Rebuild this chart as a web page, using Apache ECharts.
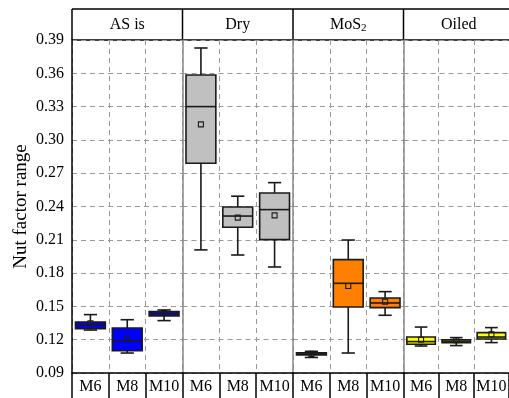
<!DOCTYPE html>
<html>
<head>
<meta charset="utf-8">
<script src="https://cdn.jsdelivr.net/npm/echarts@6/dist/echarts.min.js"></script>
<style>
html,body{margin:0;padding:0;background:#fff;}
#chart{width:509px;height:398px;}
</style>
</head>
<body>
<div id="chart"></div>
<script>
// ---- data ----
const categories = ['M6', 'M8', 'M10'];
const panels = ['AS is', 'Dry', 'MoS{sub|2}', 'Oiled'];
const yTicks = [0.09, 0.12, 0.15, 0.18, 0.21, 0.24, 0.27, 0.30, 0.33, 0.36, 0.39];
// each row: [whiskerLow, Q1, median, Q3, whiskerHigh, mean]
const asIs  = [[0.1287, 0.1300, 0.1336, 0.1360, 0.1426, 0.1348],
               [0.1080, 0.1100, 0.1188, 0.1305, 0.1380, 0.1210],
               [0.1372, 0.1414, 0.1432, 0.1453, 0.1468, 0.1440]];
const dry   = [[0.2009, 0.2790, 0.3300, 0.3585, 0.3828, 0.3140],
               [0.1963, 0.2213, 0.2314, 0.2396, 0.2493, 0.2300],
               [0.1855, 0.2102, 0.2372, 0.2522, 0.2615, 0.2320]];
const mos2  = [[0.1040, 0.1063, 0.1072, 0.1083, 0.1095, 0.1072],
               [0.1080, 0.1495, 0.1708, 0.1921, 0.2098, 0.1684],
               [0.1420, 0.1489, 0.1531, 0.1576, 0.1633, 0.1543]];
const oiled = [[0.1143, 0.1159, 0.1183, 0.1224, 0.1314, 0.1200],
               [0.1147, 0.1174, 0.1187, 0.1200, 0.1219, 0.1195],
               [0.1174, 0.1206, 0.1224, 0.1264, 0.1309, 0.1249]];
const panelData = [asIs, dry, mos2, oiled];
const panelColors = ['#0000FF', '#C0C0C0', '#FF8000', '#FFFF00'];

// ---- layout ----
const L = 72, T = 40, B = 25, PW = 110.5, HEADER = 31;
const font = "'Liberation Serif', 'Times New Roman', serif";
const edge = '#1a1a1a';

const chart = echarts.init(document.getElementById('chart'), null, {renderer: 'canvas'});

const grids = [], xAxes = [], yAxes = [], series = [];
panels.forEach((p, i) => {
  grids.push({left: L + i * PW, top: T, width: PW, bottom: B, containLabel: false});
  xAxes.push({
    type: 'category', gridIndex: i, data: categories, position: 'bottom',
    axisLine: {show: true, lineStyle: {color: '#000', width: 1.5}},
    axisTick: {show: true, length: 26, interval: 0, lineStyle: {color: '#000', width: 1.5}},
    axisLabel: {fontFamily: font, fontSize: 16, color: '#000', margin: 6, interval: 0},
    splitLine: {show: true, interval: 0, lineStyle: {color: '#999', type: [5, 4], width: 1}}
  });
  yAxes.push({
    type: 'value', gridIndex: i, min: yTicks[0], max: yTicks[yTicks.length - 1], interval: 0.03,
    name: i === 0 ? 'Nut factor range' : '',
    nameLocation: 'middle', nameGap: 41,
    nameTextStyle: {fontFamily: font, fontSize: 19, color: '#000'},
    axisLine: {show: true, lineStyle: {color: i === 0 ? '#000' : '#888', width: 1.5}},
    axisTick: {show: false},
    axisLabel: {show: i === 0, fontFamily: font, fontSize: 16, color: '#000', margin: 8,
      formatter: v => v.toFixed(2)},
    splitLine: {show: true, lineStyle: {color: '#999', type: [5, 4], width: 1}}
  });
  const color = panelColors[i];
  series.push({
    type: 'custom', xAxisIndex: i, yAxisIndex: i,
    data: panelData[i].map((r, k) => [k].concat(r)),
    encode: {x: 0, y: [1, 2, 3, 4, 5, 6]},
    z: 5,
    renderItem: function (params, api) {
      const x = api.value(0);
      const lo = api.coord([x, api.value(1)]);
      const q1 = api.coord([x, api.value(2)]);
      const md = api.coord([x, api.value(3)]);
      const q3 = api.coord([x, api.value(4)]);
      const hi = api.coord([x, api.value(5)]);
      const mn = api.coord([x, api.value(6)]);
      const cw = api.size([1, 0])[0];
      const bw = cw * 0.81, cap = cw * 0.36;
      const cx = lo[0];
      const ls = {stroke: edge, lineWidth: 1.6, fill: null};
      return {
        type: 'group',
        children: [
          {type: 'line', shape: {x1: cx, y1: hi[1], x2: cx, y2: q3[1]}, style: ls},
          {type: 'line', shape: {x1: cx, y1: q1[1], x2: cx, y2: lo[1]}, style: ls},
          {type: 'line', shape: {x1: cx - cap / 2, y1: hi[1], x2: cx + cap / 2, y2: hi[1]}, style: ls},
          {type: 'line', shape: {x1: cx - cap / 2, y1: lo[1], x2: cx + cap / 2, y2: lo[1]}, style: ls},
          {type: 'rect', shape: {x: cx - bw / 2, y: q3[1], width: bw, height: q1[1] - q3[1]},
            style: {fill: color, stroke: edge, lineWidth: 1.6}},
          {type: 'line', shape: {x1: cx - bw / 2, y1: md[1], x2: cx + bw / 2, y2: md[1]}, style: ls},
          {type: 'rect', shape: {x: cx - 2.5, y: mn[1] - 2.5, width: 5, height: 5},
            style: {fill: null, stroke: edge, lineWidth: 1.1}}
        ]
      };
    }
  });
});

// header strip (layout decoration)
const graphics = [];
graphics.push({type: 'line', shape: {x1: L, y1: T - HEADER, x2: 520, y2: T - HEADER},
  style: {stroke: '#000', lineWidth: 1.5}});
graphics.push({type: 'line', shape: {x1: L, y1: T, x2: 520, y2: T},
  style: {stroke: '#000', lineWidth: 1.5}});
panels.forEach((p, i) => {
  graphics.push({type: 'line', shape: {x1: L + i * PW, y1: T - HEADER, x2: L + i * PW, y2: T},
    style: {stroke: '#000', lineWidth: 1.5}});
  graphics.push({type: 'text', x: L + i * PW + PW / 2, y: T - HEADER / 2,
    style: {text: p, fontFamily: font, fontSize: 16, fill: '#000', align: 'center', verticalAlign: 'middle',
      rich: {sub: {fontFamily: font, fontSize: 11, fill: '#000', padding: [8, 0, 0, 0]}}}});
});

chart.setOption({
  animation: false,
  backgroundColor: '#fff',
  grid: grids, xAxis: xAxes, yAxis: yAxes, series: series,
  graphic: graphics
});
</script>
</body>
</html>
